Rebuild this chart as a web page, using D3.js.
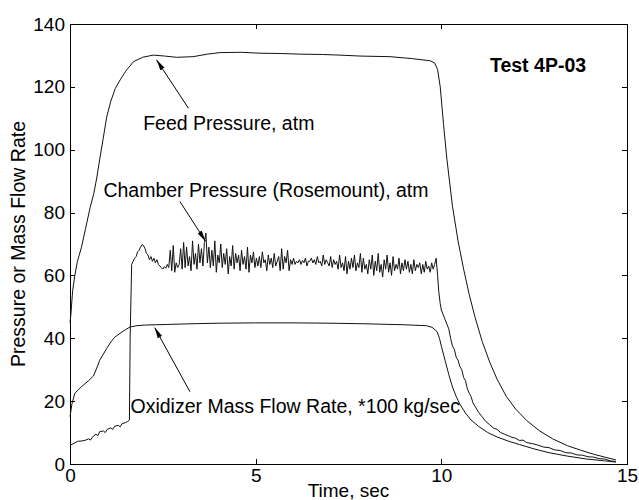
<!DOCTYPE html>
<html>
<script src="https://d3js.org/d3.v7.min.js"></script>
<style>
    body {
        margin: 0;
        background: #fff;
    }

    text {
        font-family: "Liberation Sans", Arial, sans-serif;
        fill: #000;
    }

    .axis path,
    .axis line {
        stroke: #000;
        shape-rendering: crispEdges;
    }

    .axis text {
        font-size: 19px;
    }

    .trace {
        fill: none;
        stroke: #111;
        stroke-width: 1;
    }

    .note {
        font-size: 19.5px;
    }
</style>

<body></body>
<script>
    const width = 639,
        height = 500;

    // tick labels
    const xTicks = [0, 5, 10, 15];
    const yTicks = [0, 20, 40, 60, 80, 100, 120, 140];

    // feed pressure, atm  [time s, value]
    const feed = [
        [0, 45], [0.02, 47], [0.07, 55], [0.13, 60], [0.2, 64.5], [0.31, 69], [0.42, 75], [0.54, 81.5],
        [0.64, 86], [0.72, 91], [0.8, 97], [0.9, 104], [0.99, 110.5], [1.1, 115.5], [1.22, 119.5],
        [1.35, 122.2], [1.5, 125], [1.71, 128], [1.95, 129.4], [2.24, 130.1], [2.55, 129.8],
        [2.87, 129.4], [3.31, 129.6], [3.7, 130.4], [4.04, 130.9], [4.6, 131], [5.12, 130.7],
        [5.7, 130.6], [6.2, 130.4], [6.8, 130.3], [7.27, 130.1], [7.81, 129.8], [8.62, 129.6],
        [9.2, 129], [9.7, 128.3], [9.82, 127.6], [9.9, 125.5], [9.97, 120], [10.06, 108],
        [10.15, 97], [10.3, 82], [10.45, 71], [10.6, 62], [10.75, 54], [10.9, 47], [11.1, 39],
        [11.3, 32.5], [11.5, 27], [11.75, 21.5], [12.0, 17.5], [12.3, 13.8], [12.65, 10.5],
        [13.0, 8], [13.4, 5.8], [13.75, 4.4], [14.1, 3.1], [14.4, 2.2], [14.7, 1.3]
    ];

    // oxidizer mass flow rate, *100 kg/sec
    const oxidizer = [
        [0, 15], [0.05, 19], [0.13, 22.5], [0.3, 24.5], [0.5, 26.5], [0.63, 28], [0.72, 30.5],
        [0.8, 33], [0.9, 35], [0.99, 36.8], [1.1, 38.8], [1.2, 40.3], [1.35, 41.6], [1.5, 42.8],
        [1.62, 43.6], [1.8, 44], [2.0, 44.2], [2.6, 44.4], [3.2, 44.6], [4.0, 44.8], [5.0, 44.9],
        [6.0, 44.9], [7.0, 44.8], [8.0, 44.6], [9.0, 44.3], [9.6, 44], [9.75, 43.5], [9.88, 42.2],
        [9.95, 40], [10.0, 37.5], [10.1, 33], [10.2, 28.5], [10.3, 24.5], [10.4, 21.5],
        [10.5, 19], [10.65, 16.2], [10.8, 14], [11.0, 12], [11.25, 10], [11.5, 8.6], [11.8, 7.3],
        [12.1, 6.2], [12.5, 4.8], [12.9, 3.6], [13.4, 2.5], [13.9, 1.6], [14.4, 1], [14.7, 0.6]
    ];

    // chamber pressure (Rosemount), atm: before ignition
    const chamberStartUp = [
        [0, 6], [0.1, 6.5], [0.2, 7.2], [0.3, 7.3], [0.4, 7.5], [0.5, 8], [0.55, 7.6], [0.6, 8.5],
        [0.7, 9.5], [0.75, 9], [0.8, 10.3], [0.9, 10.5], [0.95, 10], [1.0, 11], [1.1, 11.5],
        [1.15, 11], [1.2, 12], [1.3, 12.3], [1.35, 11.8], [1.4, 12.8], [1.5, 13.2], [1.55, 13.5],
        [1.6, 14], [1.62, 40]
    ];

    // chamber pressure during the burn, sampled every 0.04 s from 1.66 s
    const burnStart = 1.66,
        burnStep = 0.04;
    const chamberBurn = [
        63.5, 64.5, 65.5, 66, 67.5, 68, 69, 69.8, 69.5, 68.5,
        67, 66.5, 65, 66, 64.5, 65.5, 64, 65, 63.5, 63,
        62.5, 62, 62.8, 62.3, 63.5, 62.5, 68, 61.5, 69.5, 61,
        64, 62.5, 63.5, 68.5, 62, 70.5, 62.5, 69, 63, 66,
        61.5, 71, 63.5, 67, 62, 70, 64, 68.5, 63, 70.5,
        73.5, 64, 69, 62.5, 68, 63, 71, 61, 66.5, 64,
        70, 62.5, 67, 63.5, 68.5, 60.5, 66, 63, 69.5, 62,
        67, 64, 66.5, 61.5, 68, 63.5, 66, 62, 69, 61,
        66.5, 64, 67.5, 62.5, 65.5, 63, 66, 62.5, 67.5, 64,
        65, 61.5, 66.5, 63.5, 65.5, 62.5, 67, 63, 64.5, 66,
        61.5, 68.5, 62, 66, 64, 68, 61.5, 65, 63.5, 65.5,
        63.5, 64.5, 64, 65, 63.5, 64.8, 64, 65.5, 63, 64.5,
        64.5, 65.5, 64, 65, 63.5, 66, 64, 64.5, 63, 66.5,
        63.5, 65, 64, 63, 66, 62.5, 65, 63.5, 64.5, 62,
        66.5, 62.5, 64, 61.5, 66, 60.5, 64.5, 62, 65.5, 62.5,
        66.5, 61.5, 64, 62.5, 67, 61, 65.5, 62, 63.5, 60.5,
        65, 62, 66.5, 60, 64.5, 61.5, 67, 61, 63.5, 59.5,
        65, 62, 66.5, 61, 64, 60, 66, 61.5, 63.5, 62,
        65.5, 60.5, 64, 61.5, 65, 62, 64.5, 61, 63.5, 60.5,
        65, 61.5, 63.5, 62.5, 64, 60.5, 63.5, 61, 64.5, 62,
        63, 61, 64, 62, 63.5, 65.5, 60
    ];

    // chamber pressure after shutdown
    const chamberTail = [
        [9.93, 55], [9.97, 51], [10.0, 49], [10.05, 47.5], [10.1, 46], [10.15, 44.5], [10.2, 43],
        [10.25, 40], [10.3, 37.5], [10.35, 36.5], [10.4, 34], [10.45, 33], [10.5, 31], [10.55, 30],
        [10.6, 27.5], [10.65, 26.5], [10.7, 24], [10.75, 22.5], [10.8, 21.5], [10.85, 19.5],
        [10.9, 18.5], [10.95, 17.5], [11.0, 16.5], [11.1, 15], [11.2, 13.5], [11.3, 12.5],
        [11.4, 11.5], [11.5, 11], [11.6, 10], [11.7, 9.5], [11.8, 9], [11.9, 8.5], [12.0, 8.2],
        [12.1, 7.5], [12.2, 7.6], [12.3, 6.8], [12.45, 6.5], [12.6, 6], [12.75, 5.4], [12.9, 5.2],
        [13.05, 4.5], [13.2, 4.3], [13.35, 3.6], [13.5, 3.5], [13.65, 2.9], [13.8, 2.8],
        [13.95, 2.3], [14.1, 2.2], [14.25, 1.7], [14.4, 1.6], [14.55, 1.0], [14.7, 0.8]
    ];

    const chamber = chamberStartUp
        .concat(chamberBurn.map((v, i) => [burnStart + i * burnStep, v]))
        .concat(chamberTail);

    // annotations: text anchor, arrow tail and arrow tip, in data units
    const notes = [
        { label: "Feed Pressure, atm", at: [1.97, 106.3], from: [3.19, 113.2], to: [2.33, 128.6] },
        { label: "Chamber Pressure (Rosemount), atm", at: [0.9, 85], from: [2.96, 83.5], to: [3.65, 70.9] },
        { label: "Oxidizer Mass Flow Rate, *100 kg/sec", at: [1.63, 16.2], from: [3.23, 23], to: [2.28, 43.4] }
    ];

    const svg = d3.select("body").append("svg").attr("width", width).attr("height", height);

    const x = d3.scaleLinear().domain([0, 15]).range([70, 627]);
    const y = d3.scaleLinear().domain([0, 140]).range([464, 24]);

    svg.append("defs").append("marker")
        .attr("id", "head")
        .attr("viewBox", "0 0 11 5")
        .attr("refX", 11)
        .attr("refY", 2.5)
        .attr("markerWidth", 11)
        .attr("markerHeight", 5)
        .attr("markerUnits", "userSpaceOnUse")
        .attr("orient", "auto")
        .append("path")
        .attr("d", "M0,0L11,2.5L0,5Z")
        .attr("fill", "#000");

    // box axes, MATLAB style ticks pointing inward
    svg.append("g").attr("class", "axis")
        .attr("transform", "translate(0,464)")
        .call(d3.axisBottom(x).tickValues(xTicks).tickSizeInner(-5).tickSizeOuter(0).tickPadding(5));
    svg.append("g").attr("class", "axis")
        .attr("transform", "translate(70,0)")
        .call(d3.axisLeft(y).tickValues(yTicks).tickSizeInner(-5).tickSizeOuter(0).tickPadding(5));
    svg.append("g").attr("class", "axis")
        .attr("transform", "translate(0,24)")
        .call(d3.axisTop(x).tickValues(xTicks).tickSizeInner(-5).tickSizeOuter(0).tickFormat(""));
    svg.append("g").attr("class", "axis")
        .attr("transform", "translate(627,0)")
        .call(d3.axisRight(y).tickValues(yTicks).tickSizeInner(-5).tickSizeOuter(0).tickFormat(""));
    svg.selectAll(".axis .domain").attr("stroke-width", 1);
    svg.selectAll(".axis text").attr("fill", "#000");

    const line = d3.line()
        .x(d => x(d[0]))
        .y(d => y(d[1]));

    svg.selectAll(".trace")
        .data([feed, oxidizer, chamber])
        .join("path")
        .attr("class", "trace")
        .attr("d", line);

    // annotations
    svg.selectAll(".arrow")
        .data(notes)
        .join("line")
        .attr("class", "arrow")
        .attr("x1", d => x(d.from[0]))
        .attr("y1", d => y(d.from[1]))
        .attr("x2", d => x(d.to[0]))
        .attr("y2", d => y(d.to[1]))
        .attr("stroke", "#000")
        .attr("stroke-width", 1)
        .attr("marker-end", "url(#head)");
    svg.selectAll(".note")
        .data(notes)
        .join("text")
        .attr("class", "note")
        .attr("x", d => x(d.at[0]))
        .attr("y", d => y(d.at[1]))
        .text(d => d.label);

    svg.append("text")
        .attr("x", x(11.31))
        .attr("y", y(124.8))
        .attr("font-size", "19.5px")
        .attr("font-weight", "bold")
        .text("Test 4P-03");

    svg.append("text")
        .attr("x", (x(0) + x(15)) / 2)
        .attr("y", 497)
        .attr("text-anchor", "middle")
        .attr("font-size", "19px")
        .text("Time, sec");

    svg.append("text")
        .attr("transform", `translate(25,${(y(0) + y(140)) / 2}) rotate(-90)`)
        .attr("text-anchor", "middle")
        .attr("font-size", "19.5px")
        .text("Pressure or Mass Flow Rate");
</script>

</html>
